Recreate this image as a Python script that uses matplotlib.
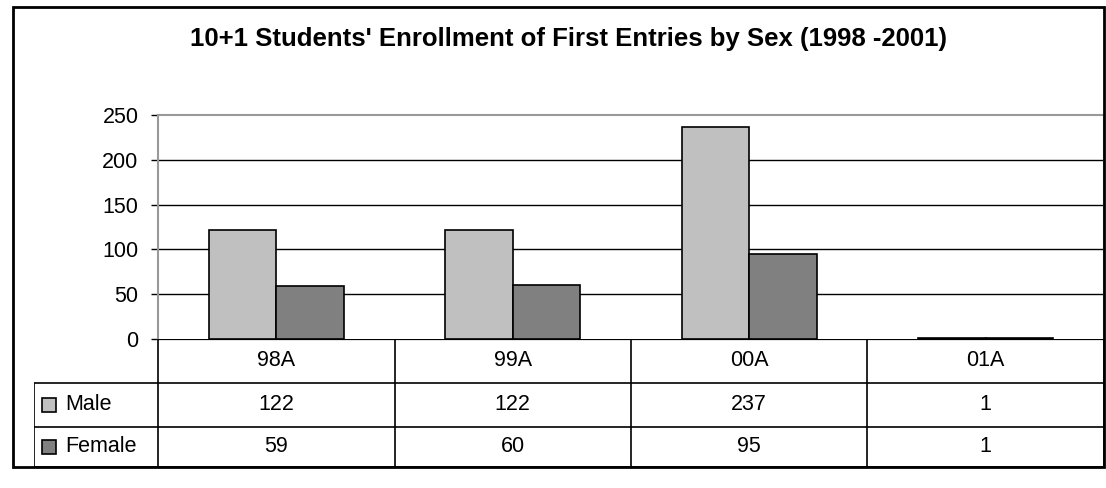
import matplotlib.pyplot as plt
from matplotlib.patches import Rectangle
import numpy as np

plt.rcParams['font.family'] = ['Liberation Sans', 'DejaVu Sans']

categories = ['98A', '99A', '00A', '01A']
series = ['Male', 'Female']
male = [122, 122, 237, 1]
female = [59, 60, 95, 1]
colors = ['#c0c0c0', '#808080']
yticks = [0, 50, 100, 150, 200, 250]

W, H = 1106, 488
FS = 15.5
fig = plt.figure(figsize=(W / 100, H / 100), dpi=100)


def box(l, t, r, b):
    # pixel box -> figure fraction [left, bottom, width, height]
    return [l / W, 1 - b / H, (r - l) / W, (b - t) / H]


# bar chart
ax = fig.add_axes(box(158, 115, 1104, 339))
x = np.arange(len(categories))
w = 1 / 3.5
ax.bar(x - w / 2, male, w, color=colors[0], edgecolor='black', linewidth=1.2, zorder=3)
ax.bar(x + w / 2, female, w, color=colors[1], edgecolor='black', linewidth=1.2, zorder=3)
ax.set_xlim(-0.5, len(categories) - 0.5)
ax.set_ylim(0, 250)
ax.set_yticks(yticks)
ax.set_yticklabels([str(v) for v in yticks], fontsize=FS)
ax.tick_params(axis='y', length=5, width=1, pad=9, colors='black')
ax.set_xticks([])
for v in yticks[1:-1]:
    ax.axhline(v, color='black', linewidth=1, zorder=1)
for s in ['top', 'left', 'right']:
    ax.spines[s].set_color('#999999')
    ax.spines[s].set_linewidth(1.5)
ax.spines['bottom'].set_visible(False)

# data table below the bars
tb = fig.add_axes(box(34, 339, 1104, 467))
key_w = 124 / 236.5
tb.set_xlim(-0.5 - key_w, len(categories) - 0.5)
tb.set_ylim(128, 0)
tb.axis('off')
rows = [0, 44, 88, 128]
lk = dict(color='black', linewidth=1.2, solid_capstyle='butt')

tb.plot([-0.5, len(categories) - 0.5], [rows[0], rows[0]], color='black',
        linewidth=1.6, solid_capstyle='butt')
for r in rows[1:]:
    tb.plot([-0.5 - key_w, len(categories) - 0.5], [r, r], **lk)
tb.plot([-0.5 - key_w] * 2, [rows[1], rows[3]], **lk)
for i in range(len(categories) + 1):
    tb.plot([i - 0.5] * 2, [rows[0], rows[3]], **lk)

for i, c in enumerate(categories):
    tb.text(i, (rows[0] + rows[1]) / 2, c, ha='center', va='center', fontsize=FS)

for k, (name, vals) in enumerate(zip(series, [male, female])):
    yc = (rows[k + 1] + rows[k + 2]) / 2
    kx = -0.5 - key_w + 8 / 236.5
    tb.add_patch(Rectangle((kx, yc - 7), 14 / 236.5, 14, facecolor=colors[k],
                           edgecolor='black', linewidth=1.2))
    tb.text(-0.5 - key_w + 31 / 236.5, yc, name, ha='left', va='center', fontsize=FS)
    for i, v in enumerate(vals):
        tb.text(i, yc, str(v), ha='center', va='center', fontsize=FS)

# chart border and title
fig.add_artist(Rectangle((13 / W, 1 - 467 / H), (1104 - 13) / W, (467 - 7) / H,
                         transform=fig.transFigure, fill=False, edgecolor='black',
                         linewidth=2))
fig.text(568 / W, 1 - 39 / H, "10+1 Students' Enrollment of First Entries by Sex (1998 -2001)",
         ha='center', va='center', fontsize=18.5, fontweight='bold')

fig.savefig('out.png', dpi=100)
